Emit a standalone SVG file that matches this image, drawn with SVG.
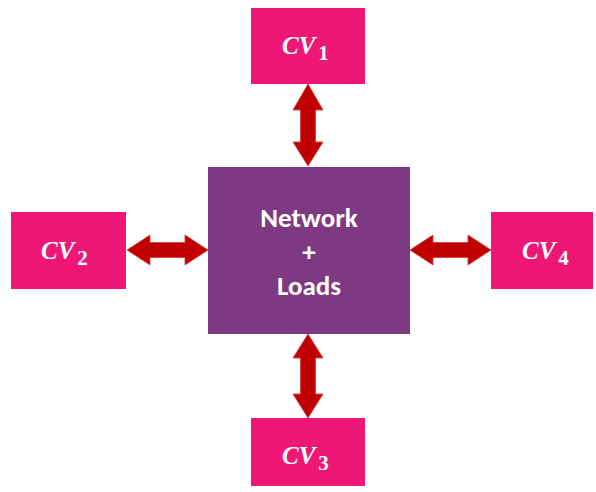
<svg xmlns="http://www.w3.org/2000/svg" width="596" height="492" viewBox="0 0 596 492">
<style>
.cv{fill:#EE1776;}
.net{fill:#7D3A82;}
.arr{fill:#C00000;stroke:#D23A3A;stroke-width:0.8;}
.lbl{font-family:"Liberation Serif",serif;font-weight:bold;font-style:italic;font-size:25px;fill:#fff;}
.sub{font-style:normal;font-size:21px;}
.nt{font-family:Carlito,"Liberation Sans",sans-serif;font-weight:bold;font-size:27px;fill:#fff;text-anchor:middle;}
</style>
<rect width="596" height="492" fill="#fff"/>
<g id="connectors">
<polygon class="arr" points="308,84 323,110 315.5,110 315.5,142 323,142 308,166 293,142 300.5,142 300.5,110 293,110"/>
<polygon class="arr" points="308,334 323,358 315.5,358 315.5,394 323,394 308,418 293,394 300.5,394 300.5,358 293,358"/>
<polygon class="arr" points="127,250 150,235 150,242.5 185,242.5 185,235 208,250 185,265 185,257.5 150,257.5 150,265"/>
<polygon class="arr" points="410,250 433,235 433,242.5 468,242.5 468,235 491,250 468,265 468,257.5 433,257.5 433,265"/>
</g>
<g id="cv1"><rect class="cv" x="251" y="8" width="114" height="76"/><text class="lbl" x="282" y="54">CV<tspan class="sub" dx="3" dy="6">1</tspan></text></g>
<g id="cv2"><rect class="cv" x="11" y="212" width="115" height="77"/><text class="lbl" x="41" y="259">CV<tspan class="sub" dx="3" dy="6">2</tspan></text></g>
<g id="cv3"><rect class="cv" x="251" y="418" width="114" height="68"/><text class="lbl" x="282" y="464">CV<tspan class="sub" dx="3" dy="6">3</tspan></text></g>
<g id="cv4"><rect class="cv" x="491" y="212" width="102" height="77"/><text class="lbl" x="522" y="259">CV<tspan class="sub" dx="3" dy="6">4</tspan></text></g>
<g id="network"><rect class="net" x="208" y="167" width="202" height="167"/>
<text class="nt" x="309" y="227">Network</text>
<text class="nt" x="309" y="261">+</text>
<text class="nt" x="309" y="295">Loads</text></g>
</svg>
